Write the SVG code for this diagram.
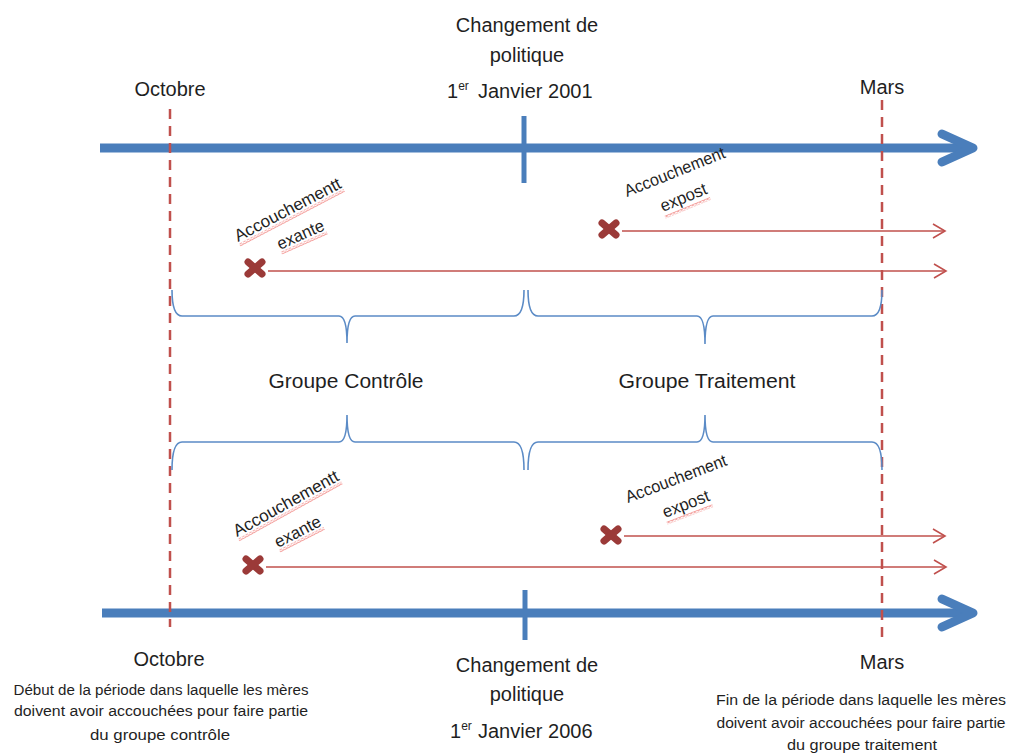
<svg xmlns="http://www.w3.org/2000/svg" width="1013" height="753" viewBox="0 0 1013 753">
<style>
text{font-family:"Liberation Sans",Arial,sans-serif;fill:#1f1f1f}
.lab{font-size:20px;text-anchor:middle}
.small{font-size:14px;text-anchor:middle}
.rot{font-size:17px}
.timeline{stroke:#4A7EBB;stroke-width:9;fill:none}
.head{stroke:#4A7EBB;stroke-width:9;fill:none;stroke-linecap:round;stroke-linejoin:round}
.tick{stroke:#4A7EBB;stroke-width:5}
.dash{stroke:#C0504D;stroke-width:2.5;stroke-dasharray:10 7;fill:none}
.brace{stroke:#5B8BC6;stroke-width:1.6;fill:none}
.rline{stroke:#C0504D;stroke-width:1.6;fill:none}
.cross{stroke:#9B3A38;stroke-width:7;stroke-linecap:round}
</style>
<defs>
<marker id="rarrow" markerUnits="userSpaceOnUse" markerWidth="16" markerHeight="18" refX="14" refY="9" orient="auto">
<path d="M2,2 L14,9 L2,16" fill="none" stroke="#C0504D" stroke-width="1.6"/>
</marker>
<pattern id="wavy" patternUnits="userSpaceOnUse" width="4" height="3">
<path d="M0,0.5 L2,2.5 L4,0.5" fill="none" stroke="#E8302A" stroke-width="0.9"/>
</pattern>
</defs>

<g id="timeline-top">
<line class="timeline" x1="100" y1="148" x2="970" y2="148"/>
<polyline class="head" points="942,134 973,148 942,162"/>
<line class="tick" x1="524" y1="116" x2="524" y2="183"/>
</g>
<g id="timeline-bottom">
<line class="timeline" x1="102" y1="613" x2="970" y2="613"/>
<polyline class="head" points="942,599 973,613 942,627"/>
<line class="tick" x1="525" y1="590" x2="525" y2="640"/>
</g>

<g id="dashed-lines">
<line class="dash" x1="170" y1="109" x2="170" y2="627"/>
<line class="dash" x1="882" y1="100" x2="882" y2="640"/>
</g>

<g id="labels-top">
<text class="lab" x="170" y="96">Octobre</text>
<text class="lab" x="882" y="94">Mars</text>
<text class="lab" x="527" y="32">Changement de</text>
<text class="lab" x="527" y="62">politique</text>
<text x="447" y="98" style="font-size:20px">1<tspan font-size="12" dy="-8">er</tspan><tspan dy="8" x="478">Janvier 2001</tspan></text>
</g>

<g id="labels-bottom">
<text class="lab" x="169" y="666">Octobre</text>
<text class="lab" x="882" y="669">Mars</text>
<text class="lab" x="527" y="672">Changement de</text>
<text class="lab" x="527" y="701">politique</text>
<text x="450" y="738" style="font-size:20px">1<tspan font-size="12" dy="-8">er</tspan><tspan dy="8" x="478">Janvier 2006</tspan></text>
<text class="small" x="161" y="695" textLength="295" lengthAdjust="spacingAndGlyphs">Début de la période dans laquelle les mères</text>
<text class="small" x="161" y="716" textLength="294" lengthAdjust="spacingAndGlyphs">doivent avoir accouchées pour faire partie</text>
<text class="small" x="160" y="740" textLength="140" lengthAdjust="spacingAndGlyphs">du groupe contrôle</text>
<text class="small" x="861" y="705" textLength="290" lengthAdjust="spacingAndGlyphs">Fin de la période dans laquelle les mères</text>
<text class="small" x="861" y="728" textLength="289" lengthAdjust="spacingAndGlyphs">doivent avoir accouchées pour faire partie</text>
<text class="small" x="862" y="750" textLength="150" lengthAdjust="spacingAndGlyphs">du groupe traitement</text>
</g>

<g id="braces">
<path class="brace" d="M172,290 Q172,316 182,316 L339,316 Q347,316 347,343 Q347,316 355,316 L514,316 Q524,316 524,290"/>
<path class="brace" d="M528,290 Q528,316 538,316 L697,316 Q705,316 705,344 Q705,316 713,316 L872,316 Q882,316 882,290"/>
<path class="brace" d="M172,470 Q172,442 182,442 L339,442 Q347,442 347,415 Q347,442 355,442 L514,442 Q524,442 524,470"/>
<path class="brace" d="M528,470 Q528,442 538,442 L697,442 Q705,442 705,415 Q705,442 713,442 L872,442 Q882,442 882,470"/>
</g>

<g id="group-labels">
<text class="lab" x="346" y="388" textLength="155" lengthAdjust="spacingAndGlyphs">Groupe Contrôle</text>
<text class="lab" x="707" y="388" textLength="177" lengthAdjust="spacingAndGlyphs">Groupe Traitement</text>
</g>

<g id="connectors">
<line class="rline" x1="268" y1="271" x2="946" y2="271" marker-end="url(#rarrow)"/>
<line class="rline" x1="622" y1="231" x2="945" y2="231" marker-end="url(#rarrow)"/>
<line class="rline" x1="266" y1="567" x2="946" y2="567" marker-end="url(#rarrow)"/>
<line class="rline" x1="624" y1="536" x2="945" y2="536" marker-end="url(#rarrow)"/>
</g>

<g id="cross-exante-top"><line class="cross" x1="248" y1="262" x2="262" y2="274"/><line class="cross" x1="248" y1="274" x2="262" y2="262"/></g>
<g id="cross-expost-top"><line class="cross" x1="602" y1="223" x2="616" y2="235"/><line class="cross" x1="602" y1="235" x2="616" y2="223"/></g>
<g id="cross-exante-bottom"><line class="cross" x1="246" y1="559" x2="260" y2="571"/><line class="cross" x1="246" y1="571" x2="260" y2="559"/></g>
<g id="cross-expost-bottom"><line class="cross" x1="604" y1="529" x2="618" y2="541"/><line class="cross" x1="604" y1="541" x2="618" y2="529"/></g>

<g id="label-exante-top">
<g transform="translate(238,242) rotate(-27.6)"><text class="rot" x="0" y="0" textLength="118" lengthAdjust="spacingAndGlyphs">Accouchementt</text><rect x="0" y="2" width="118" height="3" fill="url(#wavy)"/></g>
<g transform="translate(280,250) rotate(-24)"><text class="rot" x="0" y="0" textLength="50" lengthAdjust="spacingAndGlyphs">exante</text><rect x="0" y="2" width="50" height="3" fill="url(#wavy)"/></g>
</g>
<g id="label-expost-top">
<g transform="translate(627,197) rotate(-21.8)"><text class="rot" x="0" y="0" textLength="107" lengthAdjust="spacingAndGlyphs">Accouchement</text></g>
<g transform="translate(663,212) rotate(-22.5)"><text class="rot" x="0" y="0" textLength="49" lengthAdjust="spacingAndGlyphs">expost</text><rect x="0" y="4" width="49" height="3" fill="url(#wavy)"/></g>
</g>
<g id="label-exante-bottom">
<g transform="translate(237,537) rotate(-29)"><text class="rot" x="0" y="0" textLength="118" lengthAdjust="spacingAndGlyphs">Accouchementt</text><rect x="0" y="2" width="118" height="3" fill="url(#wavy)"/></g>
<g transform="translate(278,548) rotate(-27)"><text class="rot" x="0" y="0" textLength="50" lengthAdjust="spacingAndGlyphs">exante</text><rect x="0" y="2" width="50" height="3" fill="url(#wavy)"/></g>
</g>
<g id="label-expost-bottom">
<g transform="translate(628,503) rotate(-20.8)"><text class="rot" x="0" y="0" textLength="107" lengthAdjust="spacingAndGlyphs">Accouchement</text></g>
<g transform="translate(665,518) rotate(-21)"><text class="rot" x="0" y="0" textLength="49" lengthAdjust="spacingAndGlyphs">expost</text><rect x="0" y="4" width="49" height="3" fill="url(#wavy)"/></g>
</g>
</svg>
